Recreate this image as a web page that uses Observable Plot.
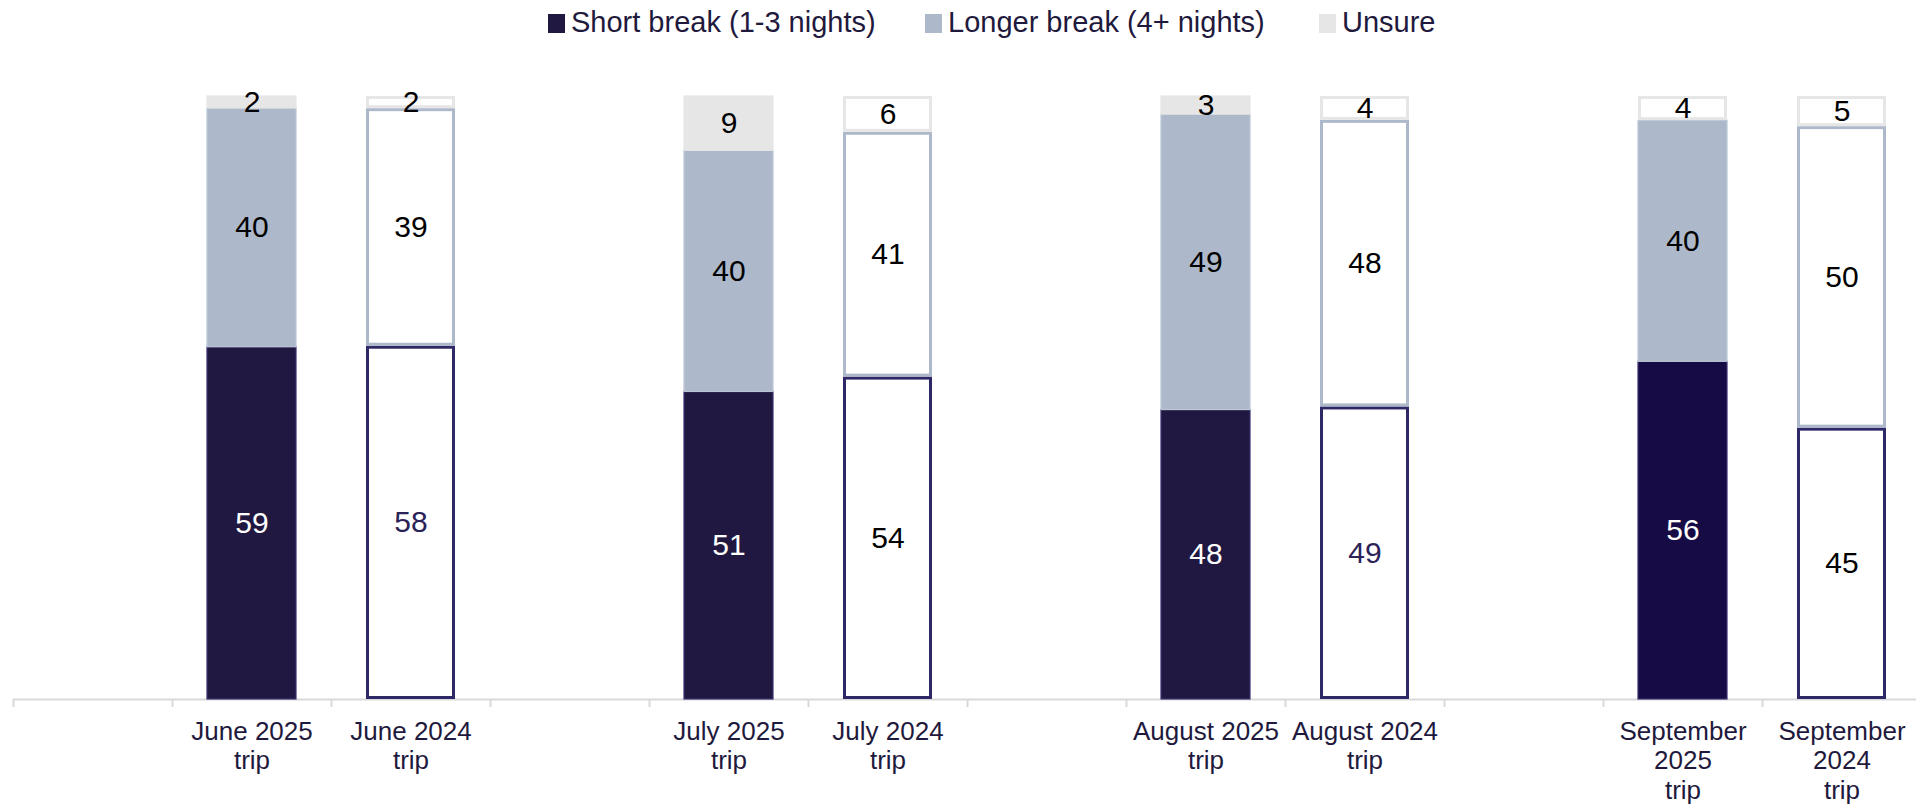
<!DOCTYPE html>
<html>
<head>
<meta charset="utf-8">
<script src="https://cdn.jsdelivr.net/npm/d3@7"></script>
<script src="https://cdn.jsdelivr.net/npm/@observablehq/plot@0.6"></script>
<style>
  html, body { margin: 0; padding: 0; background: #fff; }
  body { width: 1916px; height: 805px; overflow: hidden; font-family: "Liberation Sans", Arial, sans-serif; }
  #legend { position: relative; height: 45px; }
  .item { position: absolute; top: 0; height: 45px; }
  .sw { position: absolute; top: 14px; left: 0; width: 17px; height: 19px; }
  .lbl { position: absolute; top: 8px; left: 23px; font-size: 29px; line-height: 29px; color: #1f1a3d; white-space: nowrap; }
  svg { display: block; }
</style>
</head>
<body>
<div id="legend"></div>
<div id="chart"></div>
<script>
// ---- Data ----
const categories = [
  "June 2025 trip", "June 2024 trip",
  "July 2025 trip", "July 2024 trip",
  "August 2025 trip", "August 2024 trip",
  "September 2025 trip", "September 2024 trip"
];
const tickLabels = [
  "June 2025\ntrip", "June 2024\ntrip",
  "July 2025\ntrip", "July 2024\ntrip",
  "August 2025\ntrip", "August 2024\ntrip",
  "September\n2025\ntrip", "September\n2024\ntrip"
];
const series = ["Short break (1-3 nights)", "Longer break (4+ nights)", "Unsure"];
const shortBreak  = [59, 58, 51, 54, 48, 49, 56, 45];
const longerBreak = [40, 39, 40, 41, 49, 48, 40, 50];
const unsure      = [2, 2, 9, 6, 3, 4, 4, 5];

// ---- Styles ----
const seriesFill = ["#201840", "#adb8ca", "#e6e6e6"];
const seriesEdge = ["#3a3170", "#bcc6d5", "#e6e6e6"];
const outlineStroke = ["#2f2866", "#adb8ca", "#e6e6e6"];
const sepShortFill = "#170b45";
const navy = "#1f1a3d";

// ---- Legend ----
const legendLeft = [548, 925, 1319];
const legend = document.getElementById("legend");
series.forEach((s, j) => {
  const it = document.createElement("div");
  it.className = "item";
  it.style.left = legendLeft[j] + "px";
  it.innerHTML = `<div class="sw" style="background:${seriesFill[j]}"></div><div class="lbl">${s}</div>`;
  legend.appendChild(it);
});

// ---- Table ----
const values = [shortBreak, longerBreak, unsure];
const rows = categories.flatMap((cat, i) =>
  series.map((s, j) => ({cat, series: s, j, value: values[j][i]}))
);
const slots = categories.flatMap((c, i) => i % 2 === 0 ? ["gap" + i, c] : [c]);
const labelOf = new Map(categories.map((c, i) => [c, tickLabels[i]]));

const is2025 = (d) => d.cat.includes("2025");
const isSep25 = (d) => d.cat === "September 2025 trip";
const isOutline = (d) => !is2025(d) || (isSep25(d) && d.j === 2);

const width = 1916, height = 760;
const marginLeft = 13, marginTop = 51, marginBottom = 106;
const xRange = [13, 1921];
const bw = (xRange[1] - xRange[0]) / slots.length;
const barInset = (bw - 89) / 2;

const stackOpts = (extra) => Plot.stackY({
  x: "cat", y: "value", z: "series", order: series, offset: "normalize", ...extra
});

const chart = Plot.plot({
  width, height, marginLeft, marginRight: 0, marginTop, marginBottom,
  style: {fontFamily: "Liberation Sans, Arial, sans-serif", background: "white"},
  x: {type: "band", domain: slots, range: xRange, padding: 0, axis: null},
  y: {domain: [0, 1], axis: null},
  color: {type: "identity"},
  marks: [
    Plot.ruleY([0], {stroke: "#d9d9d9", strokeWidth: 2}),
    Plot.ruleX(slots, {x: (d) => d, y1: 0, y2: 0, dx: -bw / 2, insetBottom: -8, stroke: "#d9d9d9", strokeWidth: 2}),
    // solid (2025) segments
    Plot.barY(rows, stackOpts({
      fill: (d) => isOutline(d) ? "none" : (d.j === 0 && isSep25(d) ? sepShortFill : seriesFill[d.j]),
      stroke: (d) => isOutline(d) ? "none" : seriesEdge[d.j],
      strokeWidth: 1.2,
      insetLeft: barInset, insetRight: barInset
    })),
    // outlined (2024) segments
    Plot.barY(rows, stackOpts({
      fill: (d) => isOutline(d) ? "white" : "none",
      stroke: (d) => isOutline(d) ? outlineStroke[d.j] : "none",
      strokeWidth: 3,
      insetLeft: barInset + 1.5, insetRight: barInset + 1.5, insetTop: 1.5, insetBottom: 1.5
    })),
    // value labels
    Plot.text(rows, stackOpts({
      text: "value",
      fontSize: 30,
      fill: (d) => d.j === 0 && is2025(d) ? "white"
        : (d.j === 0 && (d.cat.startsWith("June") || d.cat.startsWith("August"))) ? "#2b2358" : "black"
    })),
    // category labels
    Plot.text(categories, {
      x: (d) => d, text: (d) => labelOf.get(d),
      frameAnchor: "bottom", lineAnchor: "top", dy: 19,
      fontSize: 26, lineHeight: 1.14, fill: navy
    })
  ]
});
document.getElementById("chart").appendChild(chart);
</script>
</body>
</html>
